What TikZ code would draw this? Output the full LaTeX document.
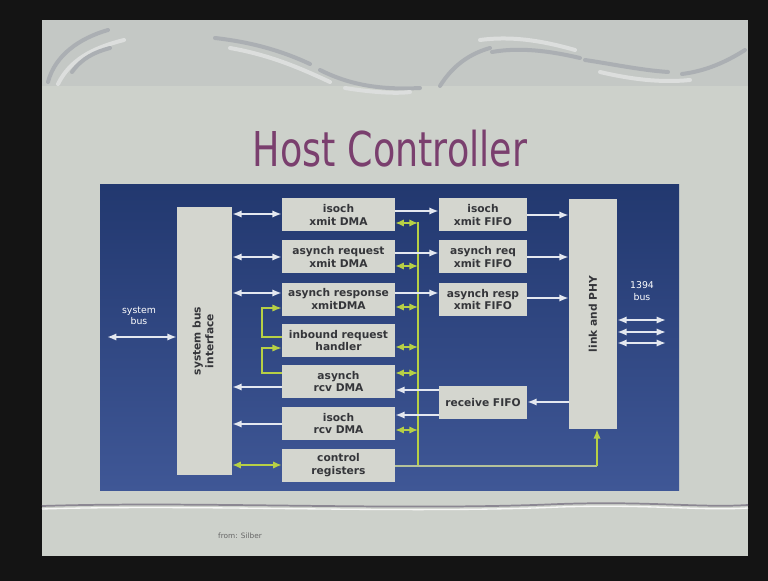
\documentclass[tikz,border=0pt]{standalone}
\usepackage{fontspec}
\usepackage{graphicx}
\setmainfont{DejaVu Sans}
\usetikzlibrary{arrows.meta,calc}
\newdimen\pxu \pxu=0.75pt
\definecolor{frame}{HTML}{141414}
\definecolor{slidebg}{HTML}{CDD1CB}
\definecolor{bandbg}{HTML}{C4C8C5}
\definecolor{panelA}{HTML}{22386F}
\definecolor{panelB}{HTML}{3F5796}
\definecolor{boxfill}{HTML}{D4D6CF}
\definecolor{boxtext}{HTML}{35363A}
\definecolor{wline}{HTML}{E4E8F0}
\definecolor{gline}{HTML}{B7D045}
\definecolor{gpale}{HTML}{B4C29A}
\definecolor{titlec}{HTML}{7A3F6E}
\definecolor{swirlD}{HTML}{ABAFB3}
\definecolor{swirlL}{HTML}{DCDEDD}
\definecolor{wavec}{HTML}{8B8792}
\begin{document}
\begin{tikzpicture}[x=0.75pt,y=-0.75pt,
  blk/.style={fill=boxfill, draw=none, inner sep=0pt, align=center,
    font=\fontsize{8}{9.5}\selectfont\bfseries, text=boxtext},
  dma/.style={blk, minimum width=113\pxu, minimum height=33\pxu},
  fifo/.style={blk, minimum width=88\pxu, minimum height=33\pxu},
  lbl/.style={text=white, align=center, inner sep=0pt, font=\fontsize{7}{8.5}\selectfont},
  wa/.style={draw=wline, line width=1.4pt, -{Latex[length=7pt,width=5.5pt]}},
  wda/.style={draw=wline, line width=1.4pt, {Latex[length=7pt,width=5.5pt]}-{Latex[length=7pt,width=5.5pt]}},
  ga/.style={draw=gline, line width=1.2pt, -{Latex[length=7pt,width=5.5pt]}},
  gda/.style={draw=gline, line width=1.2pt, {Latex[length=6.5pt,width=5.5pt]}-{Latex[length=6.5pt,width=5.5pt]}},
  gbus/.style={draw=gline, line width=1.2pt},
  swirl/.style={line cap=round, line width=3pt}
]
\useasboundingbox (0,0) rectangle (768,581);
\fill[frame] (0,0) rectangle (768,581);
\fill[slidebg] (42,20) rectangle (748,556);
\fill[bandbg] (42,20) rectangle (748,86);
% swirls
\draw[swirl,swirlD] (48,82) .. controls (55,55) and (80,38) .. (108,30);
\draw[swirl,swirlL] (58,84) .. controls (70,60) and (92,48) .. (124,40);
\draw[swirl,swirlD] (72,72) .. controls (82,58) and (95,52) .. (110,48);
\draw[swirl,swirlD] (215,38) .. controls (250,42) and (280,50) .. (310,64);
\draw[swirl,swirlL] (230,48) .. controls (270,55) and (300,68) .. (330,82);
\draw[swirl,swirlD] (320,70) .. controls (350,85) and (380,90) .. (420,88);
\draw[swirl,swirlL] (345,88) .. controls (370,92) and (395,94) .. (410,92);
\draw[swirl,swirlD] (440,86) .. controls (450,70) and (465,55) .. (490,48);
\draw[swirl,swirlL] (480,40) .. controls (510,36) and (540,40) .. (575,50);
\draw[swirl,swirlD] (492,52) .. controls (520,47) and (550,51) .. (580,58);
\draw[swirl,swirlD] (585,60) .. controls (612,64) and (640,70) .. (668,72);
\draw[swirl,swirlL] (600,72) .. controls (630,79) and (660,83) .. (690,80);
\draw[swirl,swirlD] (682,74) .. controls (706,71) and (726,62) .. (745,50);
% wavy line
\draw[wavec, line width=1.3pt] (42,506) .. controls (200,501) and (400,511) .. (560,504) .. controls (650,501) and (700,508) .. (748,505);
\draw[white!85!slidebg, line width=1pt] (42,509) .. controls (200,504) and (400,514) .. (560,507) .. controls (650,504) and (700,511) .. (748,508);
% title
\node[text=titlec, font=\fontsize{36}{40}\selectfont, inner sep=0pt] (title) at (390,149) {\scalebox{0.76}[1]{Host Controller}};
% panel
\shade[top color=panelA, bottom color=panelB] (100,185) rectangle (679,490);
% blocks
\node[blk, minimum width=55\pxu, minimum height=268\pxu] (sbi) at (204.5,341)
  {\rotatebox{90}{\begin{tabular}{@{}c@{}}system bus\\interface\end{tabular}}};
\node[blk, minimum width=48\pxu, minimum height=230\pxu] (link) at (593,314) {\rotatebox{90}{link and PHY}};
\node[dma] (d1) at (338.5,215) {isoch\\xmit DMA};
\node[dma] (d2) at (338.5,257) {asynch request\\xmit DMA};
\node[dma] (d3) at (338.5,299) {asynch response\\xmitDMA};
\node[dma] (d4) at (338.5,340.5) {inbound request\\handler};
\node[dma] (d5) at (338.5,381.5) {asynch\\rcv DMA};
\node[dma] (d6) at (338.5,423.5) {isoch\\rcv DMA};
\node[dma] (d7) at (338.5,465) {control\\registers};
\node[fifo] (f1) at (483,215) {isoch\\xmit FIFO};
\node[fifo] (f2) at (483,257) {asynch req\\xmit FIFO};
\node[fifo] (f3) at (483,299.5) {asynch resp\\xmit FIFO};
\node[fifo] (rf) at (483,402.5) {receive FIFO};
% labels
\node[lbl] (syslbl) at (139,316) {system\\bus};
\node[lbl] (buslbl) at (642,291) {1394\\bus};
\node[text=gray!80!black, font=\fontsize{5.5}{6}\selectfont, inner sep=0pt] (src) at (240,536) {from: Silber};
% system bus
\coordinate (sysend) at (107,337);
\draw[wda] (sysend) -- (sbi.west |- sysend);
% 1394 bus
\coordinate (b1) at (666,320);
\coordinate (b2) at (666,332);
\coordinate (b3) at (666,343);
\draw[wda] (link.east |- b1) -- (b1);
\draw[wda] (link.east |- b2) -- (b2);
\draw[wda] (link.east |- b3) -- (b3);
% left side
\draw[wda] (sbi.east |- 0,214) -- (d1.west |- 0,214);
\draw[wda] (sbi.east |- 0,257) -- (d2.west |- 0,257);
\draw[wda] (sbi.east |- 0,293) -- (d3.west |- 0,293);
\draw[wa] (d5.west |- 0,387) -- (sbi.east |- 0,387);
\draw[wa] (d6.west |- 0,424) -- (sbi.east |- 0,424);
\draw[gda] (sbi.east |- 0,465) -- (d7.west);
% green brackets
\draw[ga] (d4.west |- 0,337) -- (262,337) -- (262,308) -- (d3.west |- 0,308);
\draw[ga] (d5.west |- 0,373) -- (262,373) -- (262,348) -- (d4.west |- 0,348);
% green bus
\coordinate (bustop) at (418,222);
\coordinate (busbot) at (418,466);
\draw[gbus] (bustop) -- (busbot);
\draw[gda] (d1.east |- 0,223) -- (bustop |- 0,223);
\draw[gda] (d2.east |- 0,266) -- (bustop |- 0,266);
\draw[gda] (d3.east |- 0,307) -- (bustop |- 0,307);
\draw[gda] (d4.east |- 0,347) -- (bustop |- 0,347);
\draw[gda] (d5.east |- 0,373) -- (bustop |- 0,373);
\draw[gda] (d6.east |- 0,430) -- (bustop |- 0,430);
\coordinate (ctlturn) at (597,466);
\draw[draw=gpale, line width=1.4pt] (d7.east |- ctlturn) -- (ctlturn);
\draw[ga] (ctlturn) -- (ctlturn |- link.south);
% white right side
\draw[wa] (d1.east |- 0,211) -- (f1.west |- 0,211);
\draw[wa] (d2.east |- 0,253) -- (f2.west |- 0,253);
\draw[wa] (d3.east |- 0,293) -- (f3.west |- 0,293);
\draw[wa] (f1.east |- 0,215) -- (link.west |- 0,215);
\draw[wa] (f2.east |- 0,257) -- (link.west |- 0,257);
\draw[wa] (f3.east |- 0,298) -- (link.west |- 0,298);
\draw[wa] (link.west |- 0,402) -- (rf.east |- 0,402);
\draw[wa] (rf.west |- 0,390) -- (d5.east |- 0,390);
\draw[wa] (rf.west |- 0,415) -- (d6.east |- 0,415);
\end{tikzpicture}
\end{document}
